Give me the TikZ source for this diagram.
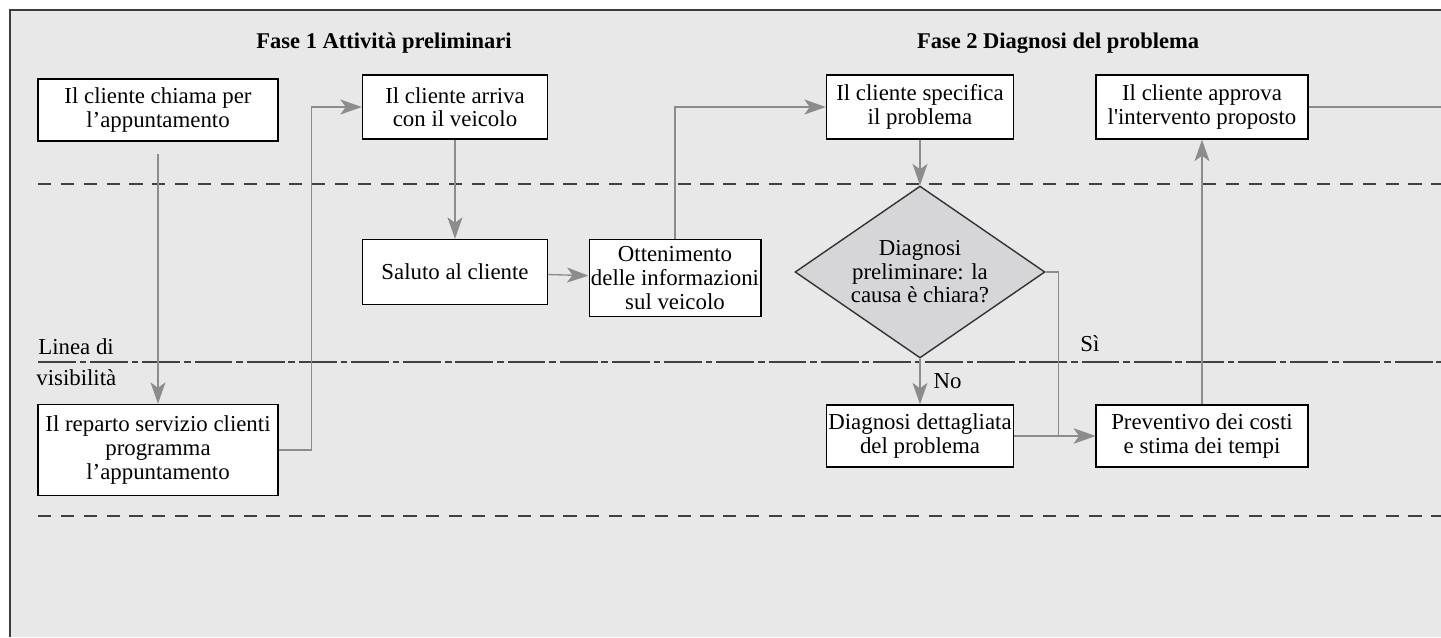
\documentclass[tikz,border=0pt]{standalone}
\usepackage{fontspec}
\setmainfont{Liberation Serif}
\usetikzlibrary{shapes.geometric, arrows.meta, positioning, calc}
\definecolor{lanegray}{HTML}{E8E8E8}
\definecolor{diagray}{HTML}{D6D6D8}
\definecolor{linegray}{HTML}{8C8C8C}
\definecolor{framegray}{HTML}{3C3C3C}

\begin{document}
\begin{tikzpicture}[
    x=0.02cm, y=-0.02cm,
    font=\fontsize{13}{13.4}\selectfont,
    box/.style={rectangle, draw=black, line width=0.8pt, fill=white, align=center, inner sep=1pt},
    decision/.style={diamond, draw=black!80, line width=0.8pt, fill=diagray, align=center, aspect=1.45, minimum width=5cm, minimum height=3.44cm, inner sep=0pt},
    arrow/.style={-{Stealth[length=4.3mm, width=3mm, inset=1.1mm]}, draw=linegray, line width=0.75pt},
    link/.style={draw=linegray, line width=0.75pt},
    lane/.style={draw=black!75, line width=0.9pt, dash pattern=on 7.5pt off 5.5pt},
    sight/.style={draw=black!75, line width=0.9pt, dash pattern=on 21.5pt off 2.2pt on 3.8pt off 2.2pt}
]
    \useasboundingbox (0,0) rectangle (1441,637);
    \fill[lanegray] (10,10) rectangle (1441,637);
    \draw[framegray, line width=1.2pt] (10,637) -- (10,10) -- (1441,10);

    % swimlane borders
    \coordinate (laneL) at (38,0);
    \coordinate (laneR) at (1441,0);
    \draw[lane] (38,184) -- (1441,184);
    \draw[sight] (38,362) -- (1441,362);
    \draw[lane] (38,516) -- (1441,516);
    \node[anchor=south west, inner sep=0pt] (lin1) at (38,355) {Linea di};
    \node[anchor=north west, inner sep=0pt] (lin2) at (36,369) {visibilità};

    % phase titles
    \node[font=\fontsize{12.8}{13.4}\selectfont\bfseries] (fase1) at (384,43) {Fase 1 Attività preliminari};
    \node[font=\fontsize{12.8}{13.4}\selectfont\bfseries] (fase2) at (1058,43) {Fase 2 Diagnosi del problema};

    % steps
    \node[box, minimum width=4.8cm, minimum height=1.24cm] (chiama) at (158,110) {Il cliente chiama per\\l’appuntamento};
    \node[box, minimum width=4.8cm, minimum height=1.82cm] (reparto) at (158,450) {Il reparto servizio clienti\\programma\\l’appuntamento};
    \node[box, minimum width=3.7cm, minimum height=1.28cm] (arriva) at (455,107) {Il cliente arriva\\con il veicolo};
    \node[box, minimum width=3.7cm, minimum height=1.3cm] (saluto) at (455,272) {Saluto al cliente};
    \node[box, minimum width=3.3cm, minimum height=1.54cm] (info) at (675,278) {Ottenimento\\delle informazioni\\sul veicolo};
    \node[box, minimum width=3.74cm, minimum height=1.28cm] (specifica) at (920,107) {Il cliente specifica\\il problema};
    \node[decision] (diag) at (920,272) {Diagnosi\\preliminare: la\\causa è chiara?};
    \node[box, minimum width=3.74cm, minimum height=1.24cm] (dettaglio) at (920,436) {Diagnosi dettagliata\\del problema};
    \node[box, minimum width=4.24cm, minimum height=1.24cm] (preventivo) at (1202,436) {Preventivo dei costi\\e stima dei tempi};
    \node[box, minimum width=4.24cm, minimum height=1.28cm] (approva) at (1202,107) {Il cliente approva\\l\textquotesingle intervento proposto};

    % flow
    \draw[arrow, shorten <=7pt] (chiama) -- (reparto);
    \draw[arrow] (reparto.east) -- ++(33,0) |- (arriva.west);
    \draw[arrow] (arriva) -- (saluto);
    \draw[arrow] (saluto) -- (info);
    \draw[arrow] (info.north) |- (specifica.west);
    \draw[arrow] (specifica) -- (diag.north);
    \draw[arrow] (diag.south) -- node[right=4pt, black] {No} (dettaglio);
    \draw[arrow] (diag.east) -- ++(13,0) |- (preventivo.west);
    \draw[arrow] (dettaglio) -- (preventivo);
    \draw[arrow] (preventivo) -- (approva);
    \draw[link] (approva.east) -- (approva.east -| laneR);
    \node[anchor=south west, inner sep=0pt] (si) at (1080,352) {Sì};
\end{tikzpicture}
\end{document}
